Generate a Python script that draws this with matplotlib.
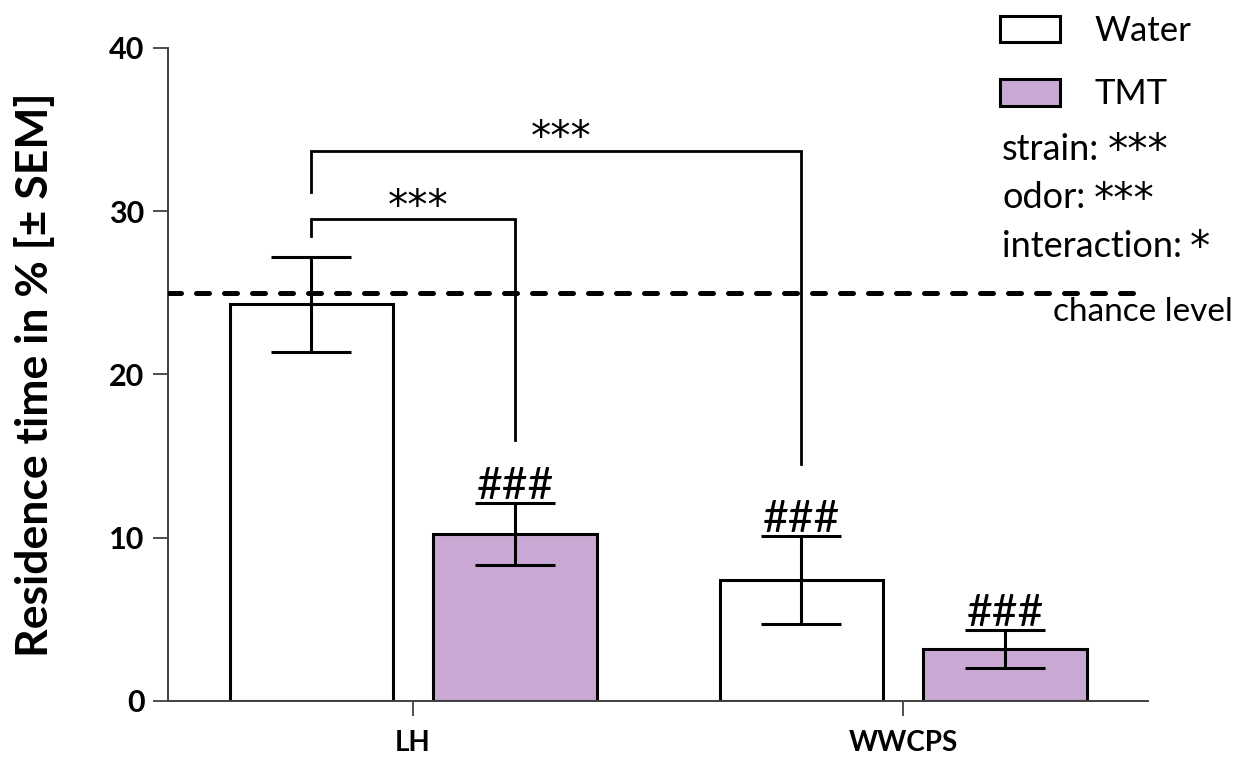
import numpy as np
import matplotlib
matplotlib.use('Agg')
import matplotlib.pyplot as plt
from matplotlib.patches import Patch

plt.rcParams['font.family'] = ['Lato', 'DejaVu Sans']

# data
groups = ['LH', 'WWCPS']
water_mean = [24.3, 7.4]
water_sem = [2.9, 2.7]
tmt_mean = [10.2, 3.2]
tmt_sem = [1.9, 1.15]
chance = 25
stats_labels = ['strain:', 'odor:', 'interaction:']
stats_stars = ['***', '***', '*']

purple = '#C9A9D3'
star_font = ['DejaVu Sans']
x = np.arange(len(groups))
off = 0.208
width = 0.333

fig = plt.figure(figsize=(12.43, 7.58), dpi=100)
ax = fig.add_axes([0.1352, 0.0752, 0.7884, 0.8615])

xw = x - off
xt = x + off
ax.bar(xw, water_mean, width, color='white', edgecolor='black', linewidth=2.2, zorder=2)
ax.bar(xt, tmt_mean, width, color=purple, edgecolor='black', linewidth=2.2, zorder=2)
ax.errorbar(xw, water_mean, yerr=water_sem, fmt='none', ecolor='black',
            elinewidth=2.2, capsize=28.8, capthick=2.2, zorder=3)
ax.errorbar(xt, tmt_mean, yerr=tmt_sem, fmt='none', ecolor='black',
            elinewidth=2.2, capsize=28.8, capthick=2.2, zorder=3)

# chance level
ax.axhline(chance, color='black', lw=3.6, dashes=(2.6, 3.0),
           dash_capstyle='round', zorder=4)

# ### marks above caps
marks = [(xt[0], tmt_mean[0] + tmt_sem[0]),
         (xw[1], water_mean[1] + water_sem[1]),
         (xt[1], tmt_mean[1] + tmt_sem[1])]
for mx, my in marks:
    ax.text(mx, my + 0.25, '###', ha='center', va='baseline', fontsize=32)

# significance brackets: (x1, x2, y_top, y1_end, y2_end)
brackets = [(xw[0], xt[0], 29.5, 28.5, 16.0),
            (xw[0], xw[1], 33.7, 31.2, 14.5)]
for x1, x2, yt, y1, y2 in brackets:
    ax.plot([x1, x1, x2, x2], [y1, yt, yt, y2], color='black', lw=2.0,
            solid_joinstyle='miter', zorder=4)
    ax.text((x1 + x2) / 2 + 0.01, yt + 0.05, '***', ha='center', va='baseline',
            fontsize=29, family=star_font)

ax.set_xlim(-0.5, 1.5)
ax.set_ylim(0, 40)
ax.set_yticks([0, 10, 20, 30, 40])
ax.set_xticks(x)
ax.set_xticklabels(groups, fontweight='bold', fontsize=20)
for lab in ax.get_yticklabels():
    lab.set_fontweight('bold')
    lab.set_fontsize(22)
ax.tick_params(axis='both', direction='out', length=11, width=1.3, color='#404040')
ax.tick_params(axis='y', pad=6)
ax.tick_params(axis='x', pad=10)
for s in ['top', 'right']:
    ax.spines[s].set_visible(False)
for s in ['left', 'bottom']:
    ax.spines[s].set_linewidth(1.4)
    ax.spines[s].set_color('#404040')

fig.text(35 / 1243, 1 - 375 / 758, 'Residence time in % [± SEM]', rotation=90,
         ha='center', va='center', fontsize=32, fontweight='bold')

handles = [Patch(facecolor='white', edgecolor='black', linewidth=2.2, label='Water'),
           Patch(facecolor=purple, edgecolor='black', linewidth=2.2, label='TMT')]
fig.legend(handles=handles, loc='upper left', bbox_to_anchor=(1000 / 1243, 1 - 15 / 758),
           frameon=False, fontsize=25, handlelength=1.73, handleheight=0.81,
           handletextpad=0.98, labelspacing=0.9, borderpad=0, borderaxespad=0)

# stats lines: label text + asterisks drawn after it
fig.canvas.draw()
renderer = fig.canvas.get_renderer()
W = fig.get_figwidth() * fig.dpi
for i, (lab, st) in enumerate(zip(stats_labels, stats_stars)):
    yb = 1 - (160 + 48.5 * i) / 758
    t = fig.text(1002 / 1243, yb, lab, ha='left', va='baseline', fontsize=26)
    bb = t.get_window_extent(renderer)
    fig.text((bb.x1 + 8) / W, yb - 0.004, st, ha='left', va='baseline', fontsize=29,
             family=star_font)

fig.text(1233 / 1243, 1 - 312 / 758, 'chance level', ha='right', va='center', fontsize=24)

fig.savefig('out.png', dpi=100)
